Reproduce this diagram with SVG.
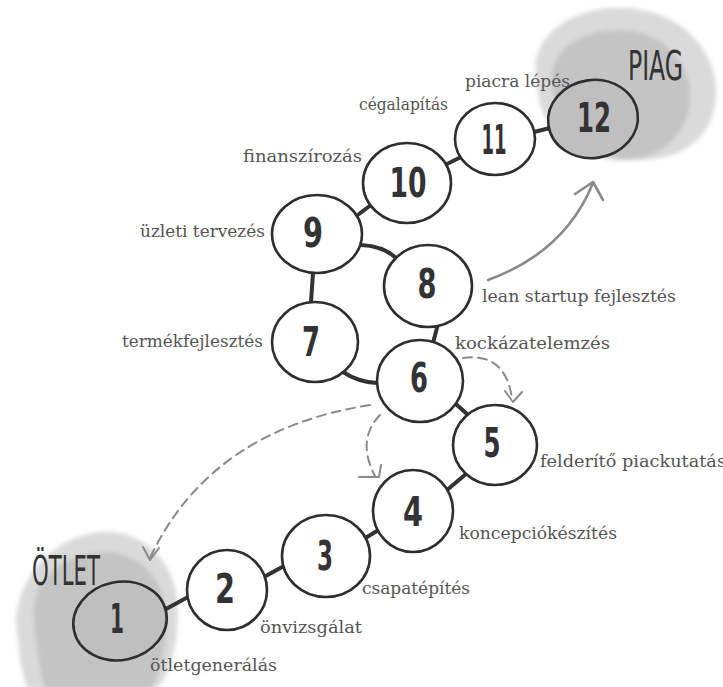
<svg xmlns="http://www.w3.org/2000/svg" width="723" height="687" viewBox="0 0 723 687">
<defs>
<style>
.node{fill:#fff;stroke:#2e2e2e;stroke-width:2.6}
.node.g{fill:#bfbfbf}
.num{font-family:"DejaVu Sans Condensed","DejaVu Sans",sans-serif;font-weight:bold;font-size:40px;fill:#333;text-anchor:middle}
.lbl{font-family:"DejaVu Serif","Liberation Serif",serif;font-size:17px;fill:#555}
.big{font-family:"DejaVu Sans Condensed","DejaVu Sans",sans-serif;font-size:40px;fill:#333}
.link{fill:none;stroke:#333;stroke-width:4;stroke-linecap:round}
.dash{fill:none;stroke:#8a8a8a;stroke-width:2;stroke-dasharray:9 6;stroke-linecap:round}
.solid{fill:none;stroke:#8a8a8a;stroke-width:2.6;stroke-linecap:round}
.head{fill:none;stroke:#8a8a8a;stroke-width:2;stroke-linecap:round;stroke-linejoin:round}
</style>
<filter id="soft" x="-10%" y="-10%" width="120%" height="120%"><feGaussianBlur stdDeviation="2"/></filter>
</defs>
<rect width="723" height="687" fill="#fff"/>
<g id="blob-otlet" filter="url(#soft)">
<path d="M18,640 C8,590 45,538 100,532 C140,528 174,560 177,600 C180,640 170,687 150,690 L28,690 C20,670 20,655 18,640 Z" fill="#dadada"/>
<path d="M34,620 C30,580 60,556 100,552 C140,550 166,580 166,620 C166,650 160,675 150,690 L45,690 C38,665 36,640 34,620 Z" fill="#c4c4c4"/>
</g>
<g id="blob-piag" filter="url(#soft)">
<path d="M535,70 C535,30 580,5 625,8 C680,10 718,50 716,95 C714,140 680,162 630,160 C580,158 548,130 540,105 Z" fill="#dadada"/>
<path d="M552,85 C548,50 580,30 620,30 C660,30 692,60 690,100 C688,135 660,160 622,160 C585,160 556,125 552,85 Z" fill="#c4c4c4"/>
</g>
<g id="connectors">
<line class="link" x1="166" y1="609" x2="188" y2="597"/>
<line class="link" x1="264" y1="577" x2="284" y2="566"/>
<line class="link" x1="367" y1="537" x2="377" y2="531"/>
<line class="link" x1="447" y1="490" x2="466" y2="474"/>
<line class="link" x1="457" y1="405" x2="467" y2="414"/>
<line class="link" x1="433" y1="343" x2="438" y2="324"/>
<path class="link" d="M343,372 Q358,382 377,383"/>
<line class="link" x1="311" y1="302" x2="313" y2="273"/>
<path class="link" d="M361,245 Q385,246 398,260"/>
<line class="link" x1="359" y1="214" x2="371" y2="205"/>
<line class="link" x1="447" y1="164" x2="461" y2="157"/>
<line class="link" x1="534" y1="132" x2="550" y2="128"/>
<path class="solid" d="M488,280 Q565,252 593,183"/>
<path class="head" d="M575,194 L593,182 L603,200" style="stroke-width:2.6"/>
<path class="dash" d="M370,405 Q210,430 150,558"/>
<path class="head" d="M143,547 L150,560 L159,548"/>
<path class="dash" d="M380,415 Q356,440 375,476"/>
<path class="head" d="M359,477 L379,477 L381,465"/>
<path class="dash" d="M463,358 Q505,352 512,398"/>
<path class="head" d="M505,391 L513,402 L522,392"/>
</g>
<g id="n1"><ellipse class="node g" cx="120" cy="621" rx="47" ry="39" transform="rotate(-12 120 621)"/><text class="num" x="117" y="633" textLength="14" lengthAdjust="spacingAndGlyphs">1</text></g>
<g id="n2"><ellipse class="node" cx="227" cy="590" rx="40" ry="40"/><text class="num" x="225" y="603" textLength="20" lengthAdjust="spacingAndGlyphs">2</text></g>
<g id="n3"><ellipse class="node" cx="326" cy="556" rx="44" ry="41"/><text class="num" x="325" y="570" textLength="16" lengthAdjust="spacingAndGlyphs">3</text></g>
<g id="n4"><ellipse class="node" cx="413" cy="511" rx="40" ry="41"/><text class="num" x="413" y="526" textLength="20" lengthAdjust="spacingAndGlyphs">4</text></g>
<g id="n5"><ellipse class="node" cx="495" cy="445" rx="42" ry="40"/><text class="num" x="492" y="457" textLength="17" lengthAdjust="spacingAndGlyphs">5</text></g>
<g id="n6"><ellipse class="node" cx="420" cy="381" rx="43" ry="41"/><text class="num" x="419" y="392" textLength="18" lengthAdjust="spacingAndGlyphs">6</text></g>
<g id="n7"><ellipse class="node" cx="315" cy="342" rx="43" ry="40"/><text class="num" x="311" y="356" textLength="18" lengthAdjust="spacingAndGlyphs">7</text></g>
<g id="n8"><ellipse class="node" cx="428" cy="286" rx="44" ry="41"/><text class="num" x="427" y="298" textLength="19" lengthAdjust="spacingAndGlyphs">8</text></g>
<g id="n9"><ellipse class="node" cx="317" cy="234" rx="45" ry="39"/><text class="num" x="313" y="247" textLength="20" lengthAdjust="spacingAndGlyphs">9</text></g>
<g id="n10"><ellipse class="node" cx="407" cy="183" rx="44" ry="40"/><text class="num" x="408" y="197" textLength="37" lengthAdjust="spacingAndGlyphs">10</text></g>
<g id="n11"><ellipse class="node" cx="495" cy="139" rx="40" ry="36"/><text class="num" x="494" y="154" textLength="25" lengthAdjust="spacingAndGlyphs">11</text></g>
<g id="n12"><ellipse class="node g" cx="593" cy="119" rx="45" ry="39" transform="rotate(-8 593 119)"/><text class="num" x="594" y="132" textLength="34" lengthAdjust="spacingAndGlyphs">12</text></g>
<g id="labels">
<text class="big" x="32" y="585" textLength="68" lengthAdjust="spacingAndGlyphs">ÖTLET</text>
<text class="big" x="628" y="80" textLength="55" lengthAdjust="spacingAndGlyphs">PIAG</text>
<text class="lbl" x="150" y="671" textLength="127" lengthAdjust="spacingAndGlyphs">ötletgenerálás</text>
<text class="lbl" x="260" y="633" textLength="102" lengthAdjust="spacingAndGlyphs">önvizsgálat</text>
<text class="lbl" x="362" y="594" textLength="108" lengthAdjust="spacingAndGlyphs">csapatépítés</text>
<text class="lbl" x="459" y="539" textLength="158" lengthAdjust="spacingAndGlyphs">koncepciókészítés</text>
<text class="lbl" x="540" y="467" textLength="186" lengthAdjust="spacingAndGlyphs">felderítő piackutatás</text>
<text class="lbl" x="455" y="349" textLength="155" lengthAdjust="spacingAndGlyphs">kockázatelemzés</text>
<text class="lbl" x="482" y="302" textLength="194" lengthAdjust="spacingAndGlyphs">lean startup fejlesztés</text>
<text class="lbl" x="122" y="347" textLength="141" lengthAdjust="spacingAndGlyphs">termékfejlesztés</text>
<text class="lbl" x="140" y="237" textLength="125" lengthAdjust="spacingAndGlyphs">üzleti tervezés</text>
<text class="lbl" x="243" y="162" textLength="119" lengthAdjust="spacingAndGlyphs">finanszírozás</text>
<text class="lbl" x="359" y="110" textLength="89" lengthAdjust="spacingAndGlyphs">cégalapítás</text>
<text class="lbl" x="465" y="87" textLength="105" lengthAdjust="spacingAndGlyphs">piacra lépés</text>
</g>
</svg>
